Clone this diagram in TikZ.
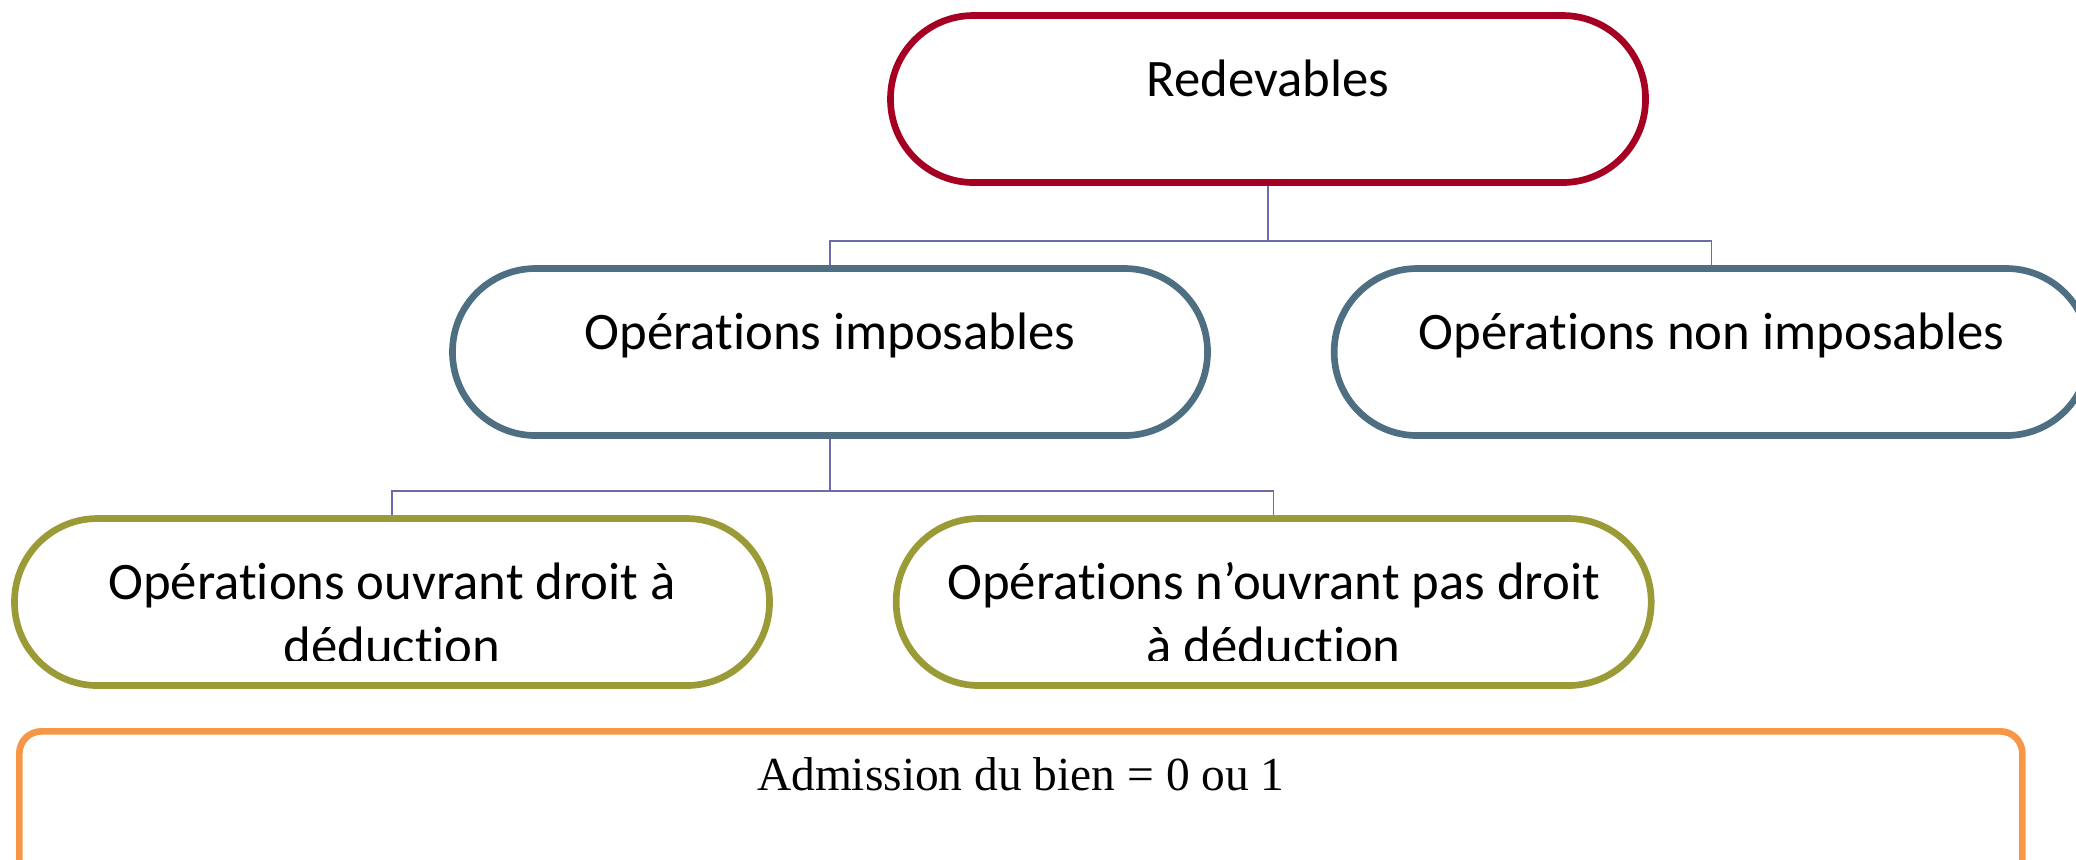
\documentclass[tikz,border=0pt]{standalone}
\usepackage{fontspec}
\setmainfont{Carlito}[Ligatures=CommonOff]
\newfontfamily\timesfont{Liberation Serif}
\usetikzlibrary{positioning}

\definecolor{redevred}{HTML}{A50021}
\definecolor{slateline}{HTML}{4E6F82}
\definecolor{oliveline}{HTML}{9A9A36}
\definecolor{orangeline}{HTML}{F79646}
\definecolor{busline}{HTML}{6B6BA8}

\tikzstyle{pill} = [rectangle, draw, line width=1.9pt, rounded corners=0.83cm, minimum width=7.55cm, minimum height=1.67cm]
\tikzstyle{txt} = [font=\fontsize{15}{18.2}\selectfont, align=center, anchor=base]
\tikzstyle{bus} = [draw=busline, line width=0.45pt]

\begin{document}
\begin{tikzpicture}
            \useasboundingbox (0,0) rectangle (20.76,-8.59);
            \clip (0,0) rectangle (20.76,-8.59);

            % the five pills
            \node (redev) [pill, draw=redevred] at (12.68,-0.99) {};
            \node (impos) [pill, draw=slateline] at (8.30,-3.52) {};
            \node (nonimp) [pill, draw=slateline, right=1.2cm of impos] {};
            \node (ouvrant) [pill, draw=oliveline] at (3.92,-6.02) {};
            \node (nouvrant) [pill, draw=oliveline, right=1.2cm of ouvrant] {};

            % bottom frame
            \node (admis) [rectangle, draw=orangeline, line width=1.9pt, rounded corners=0.22cm, minimum width=20.03cm, minimum height=1.74cm, anchor=north west] at (0.16,-7.28) {};
            \node (admistxt) [anchor=base, font=\timesfont\fontsize{13.5}{16}\selectfont] at ([yshift=-0.62cm]admis.north) {Admission du bien = 0 ou 1};

            \node (redevtxt) [txt] at ([yshift=0.03cm]redev.center) {Redevables};
            \node (impostxt) [txt] at ([yshift=0.03cm]impos.center) {Opérations imposables};
            \node (nonimptxt) [txt] at ([yshift=0.03cm]nonimp.center) {Opérations non imposables};

            % second lines are cut off at the bottom
            \begin{scope}
                \clip (0,-6.60) rectangle (20.76,0);
                \node (ouvranttxt) [txt] at ([yshift=-0.61cm]ouvrant.center) {Opérations ouvrant droit à\\déduction};
                \node (nouvranttxt) [txt] at ([yshift=-0.61cm]nouvrant.center) {Opérations n’ouvrant pas droit\\à déduction};
            \end{scope}

            \coordinate (fork1) at ([yshift=-0.55cm]redev.south);
            \coordinate (fork2) at ([yshift=-0.52cm]impos.south);

            \draw[bus] (redev.south) -- (fork1) -| (impos.north);
            \draw[bus] (fork1) -| (nonimp.north);
            \draw[bus] (impos.south) -- (fork2) -| (ouvrant.north);
            \draw[bus] (fork2) -| (nouvrant.north);
        \end{tikzpicture}
\end{document}
